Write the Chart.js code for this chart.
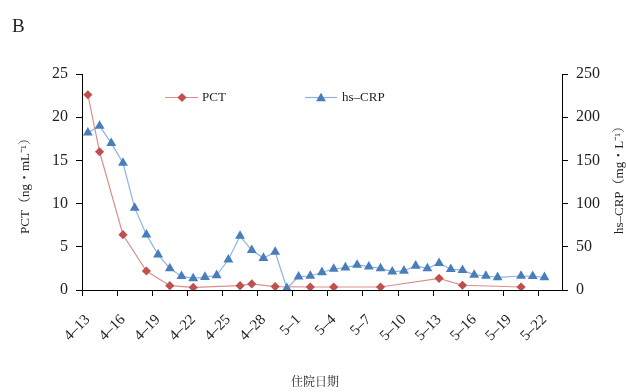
<!DOCTYPE html>
<html><head><meta charset="utf-8">
<script src="https://cdn.jsdelivr.net/npm/chart.js@4/dist/chart.umd.min.js"></script>
<style>html,body{margin:0;padding:0;background:#fff}#w{width:626px;height:392px;position:relative}</style>
</head><body><div id="w"><canvas id="c"></canvas></div>
<script>
// ---- data ----
const categories = ['4-13','4-14','4-15','4-16','4-17','4-18','4-19','4-20','4-21','4-22','4-23','4-24','4-25','4-26','4-27','4-28','4-29','4-30',
  '5-1','5-2','5-3','5-4','5-5','5-6','5-7','5-8','5-9','5-10','5-11','5-12','5-13','5-14','5-15','5-16','5-17','5-18','5-19','5-20','5-21','5-22','5-23'];
const xTickLabels = ['4-13','4-16','4-19','4-22','4-25','4-28','5-1','5-4','5-7','5-10','5-13','5-16','5-19','5-22'];
const crpDates = ['4-13','4-14','4-15','4-16','4-17','4-18','4-19','4-20','4-21','4-22','4-23','4-24','4-25','4-26','4-27','4-28','4-29','4-30',
  '5-1','5-2','5-3','5-4','5-5','5-6','5-7','5-8','5-9','5-10','5-11','5-12','5-13','5-14','5-15','5-16','5-17','5-18','5-20','5-21','5-22'];
const crpValues = [182,190,170,147,95,64,41,25,16,13.5,15,17,35,62.5,46,37,44,2,
  15.5,16.2,20.5,24.3,26,29,27,25,21.2,22.2,28,25,31,24,23,17.5,16.2,14.7,16.2,15.9,14.7];
const pctDates = ['4-13','4-14','4-16','4-18','4-20','4-22','4-26','4-27','4-29','5-2','5-4','5-8','5-13','5-15','5-20'];
const pctValues = [22.6,16.0,6.4,2.2,0.5,0.3,0.5,0.7,0.4,0.35,0.35,0.35,1.35,0.55,0.35];
const pctTicks = [0,5,10,15,20,25];
const crpTicks = [0,50,100,150,200,250];
const pctName = 'PCT', crpName = 'hs–CRP';
const yTitleLeft = 'PCT（ng・mL⁻¹）';
const yTitleRight = 'hs–CRP（mg・L⁻¹）';
const xTitle = '住院日期';
const panelLabel = 'B';

// ---- style ----
const SERIF = "'Liberation Serif','Times New Roman',serif";
const CJK = "'Liberation Serif','Noto Serif CJK SC','Noto Sans CJK SC',serif";
const TXT = '#231f20';
const pctMarker = '#C0504D', pctLine = '#DA8F8D';
const crpMarker = '#4A7EBB', crpLine = '#8DB3E2';

function drawDiamond(ctx, x, y, r, c) {
  ctx.beginPath(); ctx.moveTo(x, y - r); ctx.lineTo(x + r, y); ctx.lineTo(x, y + r); ctx.lineTo(x - r, y); ctx.closePath();
  ctx.fillStyle = c; ctx.fill();
}
function drawTri(ctx, x, y, r, c) {
  ctx.beginPath(); ctx.moveTo(x, y - r); ctx.lineTo(x + r * 0.866, y + r / 2); ctx.lineTo(x - r * 0.866, y + r / 2); ctx.closePath();
  ctx.fillStyle = c; ctx.fill();
}

const deco = {
  id: 'deco',
  afterDraw(chart) {
    const ctx = chart.ctx;
    ctx.save();
    ctx.fillStyle = TXT;
    ctx.textBaseline = 'middle';
    ctx.textAlign = 'left';
    ctx.font = '19px ' + SERIF;
    ctx.fillText(panelLabel, 12, 27);
    // legend
    ctx.lineWidth = 1.2;
    ctx.strokeStyle = pctLine;
    ctx.beginPath(); ctx.moveTo(165, 97.5); ctx.lineTo(198, 97.5); ctx.stroke();
    drawDiamond(ctx, 182, 97.5, 4.6, pctMarker);
    ctx.strokeStyle = crpLine;
    ctx.beginPath(); ctx.moveTo(305, 97.5); ctx.lineTo(337, 97.5); ctx.stroke();
    drawTri(ctx, 321, 98.5, 5.7, crpMarker);
    ctx.fillStyle = TXT;
    ctx.font = '13px ' + SERIF;
    ctx.fillText(pctName, 202, 97.5);
    ctx.fillText(crpName, 342, 97.5);
    // axis titles
    ctx.textAlign = 'center';
    ctx.font = '12px ' + CJK;
    ctx.fillText(xTitle, 315, 383);
    ctx.font = '13px ' + CJK;
    ctx.save(); ctx.translate(26, 183); ctx.rotate(-Math.PI / 2); ctx.fillText(yTitleLeft, 0, 0); ctx.restore();
    ctx.save(); ctx.translate(620, 177); ctx.rotate(-Math.PI / 2); ctx.fillText(yTitleRight, 0, 0); ctx.restore();
    ctx.restore();
  }
};

const showTick = (i) => xTickLabels.includes(categories[i]);

new Chart(document.getElementById('c'), {
  type: 'line',
  data: {
    labels: categories,
    datasets: [
      {
        label: pctName, yAxisID: 'y',
        data: pctDates.map((d, i) => ({x: d, y: pctValues[i]})),
        borderColor: pctLine, borderWidth: 1.2, backgroundColor: pctMarker,
        pointStyle: 'rectRot', pointRadius: 4.6, pointBorderWidth: 0, pointBorderColor: pctMarker,
        pointBackgroundColor: pctMarker, tension: 0, spanGaps: true, order: 2
      },
      {
        label: crpName, yAxisID: 'y2',
        data: crpDates.map((d, i) => ({x: d, y: crpValues[i]})),
        borderColor: crpLine, borderWidth: 1.2, backgroundColor: crpMarker,
        pointStyle: 'triangle', pointRadius: 5.7, pointBorderWidth: 0, pointBorderColor: crpMarker,
        pointBackgroundColor: crpMarker, tension: 0, spanGaps: true, order: 1
      }
    ]
  },
  options: {
    responsive: true, maintainAspectRatio: false, animation: false,
    layout: {padding: {top: 74, left: 0, right: 0, bottom: 0}},
    plugins: {legend: {display: false}, tooltip: {enabled: false}, title: {display: false}},
    scales: {
      x: {
        type: 'category', offset: true,
        afterFit: (s) => { s.height = 102; },
        border: {display: true, color: '#000', width: 1},
        grid: {
          offset: true, drawOnChartArea: false, drawTicks: true, tickLength: 6,
          color: (c) => (c.index !== undefined && c.index < categories.length && showTick(c.index)) ? '#000' : 'rgba(0,0,0,0)'
        },
        ticks: {
          autoSkip: false, maxRotation: 45, minRotation: 45, padding: 15,
          color: TXT, font: {family: SERIF, size: 15},
          callback: (v, i) => showTick(i) ? categories[i].replace('-', '–') : ''
        }
      },
      y: {
        position: 'left', min: 0, max: 25,
        afterFit: (s) => { s.width = 82; },
        afterBuildTicks: (s) => { s.ticks = pctTicks.map(v => ({value: v})); },
        border: {display: true, color: '#000', width: 1},
        grid: {drawOnChartArea: false, drawTicks: true, tickLength: 6, color: '#000'},
        ticks: {padding: 8, color: TXT, font: {family: SERIF, size: 16}}
      },
      y2: {
        position: 'right', min: 0, max: 250,
        afterFit: (s) => { s.width = 64; },
        afterBuildTicks: (s) => { s.ticks = crpTicks.map(v => ({value: v})); },
        border: {display: true, color: '#000', width: 1},
        grid: {drawOnChartArea: false, drawTicks: true, tickLength: 6, color: '#000'},
        ticks: {padding: 8, color: TXT, font: {family: SERIF, size: 16}}
      }
    }
  },
  plugins: [deco]
});
</script>
</body></html>
